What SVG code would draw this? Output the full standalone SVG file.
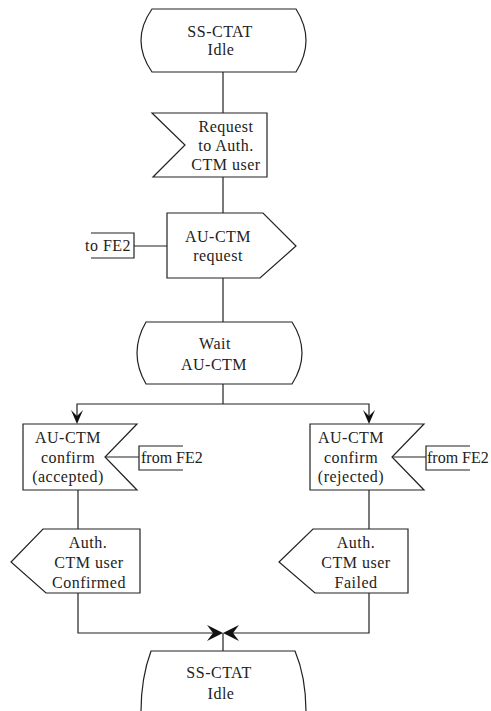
<svg xmlns="http://www.w3.org/2000/svg" width="491" height="711" viewBox="0 0 491 711">
<style>
.s{fill:#fff;stroke:#222;stroke-width:1.2}
.o{fill:none;stroke:#222;stroke-width:1.2}
.c{fill:none;stroke:#222;stroke-width:1.2}
.a{fill:#111;stroke:none}
text{font-family:"Liberation Serif","Times New Roman",serif;font-size:16px;fill:#222;letter-spacing:0.5px}
.m{text-anchor:middle}
.e{letter-spacing:0px}
</style>
<rect width="491" height="711" fill="#fff"/>
<g id="connectors">
<path class="c" d="M223,72V113M223,177V213M223,278V322M223,384V404"/>
<path class="c" d="M77,418V404H369V418"/>
<path class="c" d="M78,490V529M369,490V529"/>
<path class="c" d="M78,593V633H217M369,593V633H229M223,633V651"/>
<path class="c" d="M134,246H167M105,457H139M392,457H426"/>
<polygon class="a" points="71,410 77,416 83,410 77,424"/>
<polygon class="a" points="363,410 369,416 375,410 369,424"/>
<polygon class="a" points="207,625 213,633 207,641 223,633"/>
<polygon class="a" points="239,625 233,633 239,641 223,633"/>
</g>
<g id="state-idle-top">
<path class="s" d="M152,9H296Q316,40.5 296,72H152Q130,40.5 152,9Z"/>
<text class="m" x="220" y="37">SS-CTAT</text>
<text class="m" x="221" y="55">Idle</text>
</g>
<g id="input-request">
<polygon class="s" points="152,113 267,113 267,177 153,177 185,145"/>
<text class="m" x="226" y="132">Request</text>
<text class="m" x="226" y="151">to Auth.</text>
<text class="m" x="226" y="170">CTM user</text>
</g>
<g id="output-request">
<polygon class="s" points="167,213 263,213 296,246 260,278 167,278"/>
<text class="m" x="218" y="242">AU-CTM</text>
<text class="m" x="218" y="261">request</text>
</g>
<g id="env-to-fe2">
<path class="o" d="M91,233H134V258H91"/>
<text x="85" y="251">to FE2</text>
</g>
<g id="state-wait">
<path class="s" d="M146,322H292Q312,353 292,384H146Q128,353 146,322Z"/>
<text class="m" x="215" y="349">Wait</text>
<text class="m" x="214" y="370">AU-CTM</text>
</g>
<g id="input-accepted">
<polygon class="s" points="23,424 137,424 105,457 137,490 23,490"/>
<text class="m" x="68" y="443">AU-CTM</text>
<text class="m" x="68" y="463">confirm</text>
<text class="m" x="68" y="482">(accepted)</text>
</g>
<g id="env-from-fe2-left">
<path class="o" d="M183,446H139V470H183"/>
<text class="e" x="141" y="463">from FE2</text>
</g>
<g id="input-rejected">
<polygon class="s" points="310,424 424,424 392,457 424,490 310,490"/>
<text class="m" x="351" y="443">AU-CTM</text>
<text class="m" x="351" y="463">confirm</text>
<text class="m" x="351" y="482">(rejected)</text>
</g>
<g id="env-from-fe2-right">
<path class="o" d="M470,446H426V470H470"/>
<text class="e" x="427" y="463">from FE2</text>
</g>
<g id="output-confirmed">
<polygon class="s" points="140,529 43,529 11,562 46,593 140,593"/>
<text class="m" x="88" y="548">Auth.</text>
<text class="m" x="89" y="568">CTM user</text>
<text class="m" x="89" y="588">Confirmed</text>
</g>
<g id="output-failed">
<polygon class="s" points="408,529 313,529 279,562 315,593 408,593"/>
<text class="m" x="356" y="548">Auth.</text>
<text class="m" x="356" y="568">CTM user</text>
<text class="m" x="356" y="588">Failed</text>
</g>
<g id="state-idle-bottom">
<path class="s" d="M151,651H295C303,670 306,692 306,712V730H141V712C141,692 144,670 151,651Z"/>
<text class="m" x="219" y="678">SS-CTAT</text>
<text class="m" x="221" y="699">Idle</text>
</g>
</svg>
